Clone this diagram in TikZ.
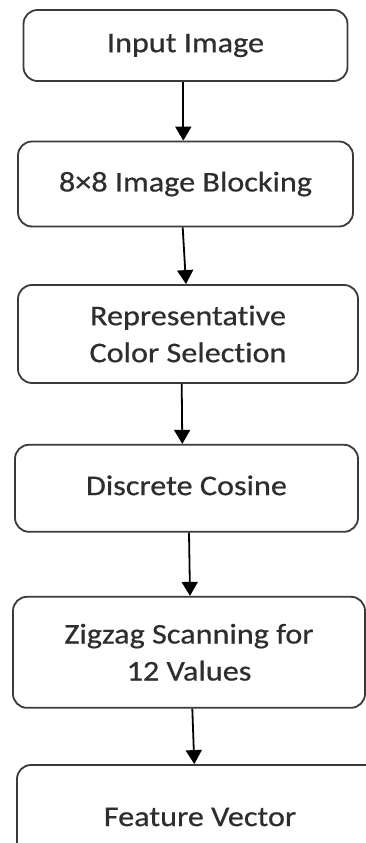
\documentclass[tikz,border=0pt]{standalone}
\usepackage{fontspec}
\setmainfont{Carlito}[FakeStretch=1.13, FakeBold=0.6, Ligatures={NoCommon,NoContextual}]
\usetikzlibrary{arrows.meta}
\definecolor{boxline}{HTML}{3A3A3A}
\tikzset{
  procbox/.style={draw=boxline, line width=1.8pt, rounded corners=14pt, fill=white,
    align=center, inner sep=0pt, text=black!82,
    font=\fontsize{28.5}{37}\selectfont},
  arr/.style={line width=1.8pt, black, -{Triangle[width=16pt,length=14pt]}}
}
\begin{document}
\begin{tikzpicture}[x=1pt,y=-1pt]
\useasboundingbox (0,0) rectangle (366,843);
\clip (0,0) rectangle (366,843);
\node[procbox, minimum width=324pt, minimum height=71pt] (b1) at (185.5,45.5) {Input Image};
\node[procbox, minimum width=335pt, minimum height=85pt] (b2) at (185.5,184) {8×8 Image Blocking};
\node[procbox, minimum width=340pt, minimum height=98pt] (b3) at (188,334) {Representative\\Color Selection};
\node[procbox, minimum width=343pt, minimum height=87pt] (b4) at (186.5,488.3) {\raisebox{6pt}{Discrete Cosine}};
\node[procbox, minimum width=352pt, minimum height=111pt] (b5) at (189,652.3) {Zigzag Scanning for\\12 Values};
\node[procbox, minimum width=366pt, minimum height=104pt] (b6) at (200,817) {Feature Vector};
\draw[arr] (b1.south -| 183.3,0) -- (b2.north -| 183.3,0);
\draw[arr] (b2.south -| 182.7,0) -- (b3.north -| 186,0);
\draw[arr] (b3.south -| 181.7,0) -- (b4.north -| 182.3,0);
\draw[arr] (b4.south -| 189,0) -- (b5.north -| 190,0);
\draw[arr] (b5.south -| 192.3,0) -- (b6.north -| 194.3,0);
\end{tikzpicture}
\end{document}
